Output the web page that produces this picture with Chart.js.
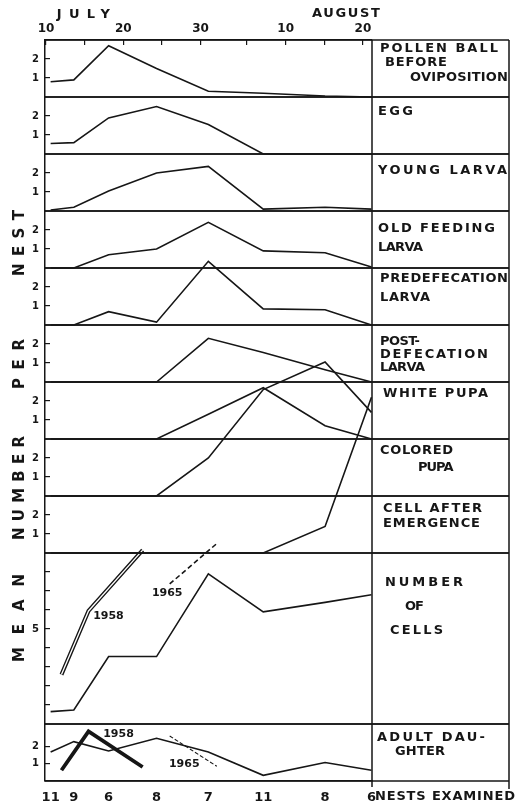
<!DOCTYPE html>
<html>
<head>
<meta charset="utf-8">
<style>
  html, body { margin: 0; padding: 0; background: #fff; }
</style>
<script src="https://cdn.jsdelivr.net/npm/chart.js@4.4.1/dist/chart.umd.min.js"></script>
</head>
<body>
<canvas id="chart" width="518" height="804"></canvas>
<script>
// sampling dates as days counted from July 1 (Aug 1 = 32)
const sampleDays = [10.6, 13.6, 18.1, 24.3, 31, 38.1, 46.1, 52.1];
const nestsExamined = ['11', '9', '6', '8', '7', '11', '8', '6'];

const topTickDays = [10, 15, 20, 25, 30, 36, 41, 46, 51];
const topTickLabels = ['10', '', '20', '', '30', '', '10', '', '20'];

// mean number per nest, one array per stage
const pollenBall          = [0.8, 0.9, 2.7, 1.5, 0.3, 0.2, 0.05, 0];
const egg                 = [0.55, 0.6, 1.9, 2.5, 1.55, 0, 0, 0];
const youngLarva          = [0.05, 0.2, 1.05, 2.0, 2.35, 0.1, 0.2, 0.1];
const oldFeedingLarva     = [0, 0, 0.7, 1.0, 2.4, 0.9, 0.8, 0.05];
const predefecationLarva  = [0, 0, 0.7, 0.15, 3.35, 0.85, 0.8, 0];
const postdefecationLarva = [0, 0, 0, 0, 2.3, 1.55, 0.65, 0];
const whitePupa           = [0, 0, 0, 0, 1.3, 2.7, 0.7, 0];
const coloredPupa         = [0, 0, 0, 0, 2.0, 5.6, 7.05, 4.4];
const cellAfterEmergence  = [0, 0, 0, 0, 0, 0, 1.4, 8.2];
const numberOfCells       = [0.65, 0.74, 3.55, 3.55, 7.9, 5.9, 6.4, 6.8];
const adultDaughters      = [1.7, 2.3, 1.75, 2.5, 1.7, 0.33, 1.08, 0.63];

// other years
const days1958 = [12.0, 15.5, 22.5];
const cells1958 = [2.6, 5.95, 9.15];
const adult1958 = [0.63, 2.9, 0.82];
const days1965 = [26, 32.1];
const cells1965 = [7.37, 9.5];
const adult1965 = [2.63, 0.86];

const smallTicks = [1, 2];
const cellTicks = [1, 2, 3, 4, 5, 6, 7, 8];

const ink = '#161616';
const fam = '"DejaVu Sans", sans-serif';

function pts(xs, ys) {
    return ys.map((v, i) => ({ x: xs[i], y: v }));
}

function series(xs, ys, axisId, extra) {
    return Object.assign({
        data: pts(xs, ys),
        xAxisID: 'x',
        yAxisID: axisId,
        borderColor: ink,
        borderWidth: 1.6,
        pointRadius: 0,
        tension: 0,
        fill: false,
        clip: false
    }, extra || {});
}

function panelAxis(max, tickVals, labelFn, weight) {
    return {
        type: 'linear',
        position: 'left',
        stack: 'panels',
        stackWeight: weight || 1,
        min: 0,
        max: max,
        afterBuildTicks: a => { a.ticks = tickVals.map(v => ({ value: v })); },
        afterFit: a => { a.width = 25; },
        grid: { display: true, drawOnChartArea: false, drawTicks: true, tickLength: -5, color: ink, lineWidth: 1.2 },
        border: { display: true, color: ink, width: 1.5 },
        ticks: {
            autoSkip: false,
            color: ink,
            padding: 11,
            font: { family: fam, size: 10, weight: 'bold' },
            callback: labelFn || (v => String(v))
        }
    };
}

// text drawn to a given width by spreading the letters
function fitText(ctx, text, x, y, width) {
    ctx.letterSpacing = '0px';
    const w = ctx.measureText(text).width;
    const ls = text.length > 1 ? Math.max(-1, (width - w) / (text.length - 1)) : 0;
    ctx.letterSpacing = ls + 'px';
    ctx.fillText(text, x, y);
    ctx.letterSpacing = '0px';
}

const sideLabels = [
    ['POLLEN BALL', 380, 49, 118],
    ['BEFORE', 385, 62.5, 62],
    ['OVIPOSITION', 410, 77.5, 98],
    ['EGG', 378, 112, 35],
    ['YOUNG LARVA', 378, 171, 129],
    ['OLD FEEDING', 378, 229, 117],
    ['LARVA', 378, 247.5, 45],
    ['PREDEFECATION', 380, 279, 128],
    ['LARVA', 380, 297.5, 50],
    ['POST-', 380, 342, 40],
    ['DEFECATION', 380, 355, 108],
    ['LARVA', 380, 367.5, 45],
    ['WHITE PUPA', 383, 394, 105],
    ['COLORED', 380, 451, 73],
    ['PUPA', 418, 467.5, 35],
    ['CELL AFTER', 383, 509, 99],
    ['EMERGENCE', 383, 524, 97],
    ['NUMBER', 385, 582.5, 78],
    ['OF', 405, 606.5, 18],
    ['CELLS', 390, 631, 53],
    ['ADULT DAU-', 377, 737.5, 108],
    ['GHTER', 395, 752, 50],
    ['NESTS EXAMINED', 375, 797, 140]
];

const leftWords = [['NEST', 243, 66], ['PER', 364, 50], ['NUMBER', 488, 104], ['MEAN', 618, 88]];

const monthLabels = [
    { text: 'JULY', day: 11.4, y: 15, width: 53 },
    { text: 'AUGUST', day: 44.4, y: 14, width: 68 }
];

const yearNotes = [
    { text: '1958', axis: 'yCells', day: 16.1, value: 5.67 },
    { text: '1965', axis: 'yCells', day: 23.7, value: 6.88 },
    { text: '1958', axis: 'yAdult', day: 17.4, value: 2.75 },
    { text: '1965', axis: 'yAdult', day: 25.9, value: 0.98 }
];

const framePlugin = {
    id: 'frame',
    afterDraw(chart) {
        const ctx = chart.ctx;
        const area = chart.chartArea;
        const outerRight = 509;
        ctx.save();
        ctx.strokeStyle = ink;
        ctx.lineWidth = 1.5;

        // panel separators across the plot and the label column
        Object.values(chart.scales).forEach(s => {
            if (s.axis !== 'y') return;
            [s.top, s.bottom].forEach(y => {
                ctx.beginPath();
                ctx.moveTo(area.left, y);
                ctx.lineTo(outerRight, y);
                ctx.stroke();
            });
        });
        ctx.beginPath();
        ctx.moveTo(area.right, area.top);
        ctx.lineTo(area.right, area.bottom + 6);
        ctx.moveTo(outerRight, area.top);
        ctx.lineTo(outerRight, area.bottom + 8);
        ctx.stroke();

        ctx.fillStyle = ink;
        ctx.textBaseline = 'middle';
        ctx.textAlign = 'left';

        ctx.font = 'bold 13px ' + fam;
        sideLabels.forEach(([t, x, y, w]) => fitText(ctx, t, x, y, w));

        const xs = chart.scales.x;
        monthLabels.forEach(m => fitText(ctx, m.text, xs.getPixelForValue(m.day), m.y, m.width));

        ctx.font = 'bold 11px ' + fam;
        yearNotes.forEach(n => {
            ctx.fillText(n.text, xs.getPixelForValue(n.day), chart.scales[n.axis].getPixelForValue(n.value));
        });

        ctx.font = 'bold 15px ' + fam;
        leftWords.forEach(([t, yc, len]) => {
            ctx.save();
            ctx.translate(20, yc);
            ctx.rotate(-Math.PI / 2);
            fitText(ctx, t, -len / 2, 0, len);
            ctx.restore();
        });
        ctx.restore();
    }
};

new Chart(document.getElementById('chart').getContext('2d'), {
    type: 'line',
    data: {
        datasets: [
            series(sampleDays, pollenBall, 'yPollen'),
            series(sampleDays, egg, 'yEgg'),
            series(sampleDays, youngLarva, 'yYoung'),
            series(sampleDays, oldFeedingLarva, 'yOld'),
            series(sampleDays, predefecationLarva, 'yPre'),
            series(sampleDays, postdefecationLarva, 'yPost'),
            series(sampleDays, whitePupa, 'yWhite'),
            series(sampleDays, coloredPupa, 'yColored'),
            series(sampleDays, cellAfterEmergence, 'yEmerged'),
            series(sampleDays, numberOfCells, 'yCells'),
            series(days1958, cells1958, 'yCells', { borderWidth: 4, order: 2 }),
            series(days1958, cells1958, 'yCells', { borderColor: '#fff', borderWidth: 1.3, order: 1 }),
            series(days1965, cells1965, 'yCells', { borderDash: [5, 3], borderWidth: 1.6 }),
            series(sampleDays, adultDaughters, 'yAdult'),
            series(days1958, adult1958, 'yAdult', { borderWidth: 3.8 }),
            series(days1965, adult1965, 'yAdult', { borderDash: [4, 2], borderWidth: 1.1 })
        ]
    },
    options: {
        responsive: false,
        animation: false,
        layout: { padding: { left: 20, right: 146, top: 0, bottom: 0 } },
        plugins: {
            legend: { display: false },
            tooltip: { enabled: false }
        },
        scales: {
            x: {
                type: 'linear',
                position: 'top',
                min: 9.87,
                max: 52.17,
                afterBuildTicks: a => { a.ticks = topTickDays.map(v => ({ value: v })); },
                afterFit: a => { a.height = 40; },
                grid: { display: true, drawOnChartArea: false, drawTicks: true, tickLength: -5, color: ink, lineWidth: 1.2 },
                border: { display: true, color: ink, width: 1.5 },
                ticks: {
                    autoSkip: false,
                    maxRotation: 0,
                    padding: 9,
                    color: ink,
                    font: { family: fam, size: 12, weight: 'bold' },
                    callback: (v, i) => topTickLabels[i]
                }
            },
            xb: {
                type: 'linear',
                position: 'bottom',
                min: 9.87,
                max: 52.17,
                afterBuildTicks: a => { a.ticks = sampleDays.map(v => ({ value: v })); },
                afterFit: a => { a.height = 23; },
                grid: { display: false },
                border: { display: true, color: ink, width: 1.5 },
                ticks: {
                    autoSkip: false,
                    maxRotation: 0,
                    padding: 1,
                    color: ink,
                    font: { family: fam, size: 13, weight: 'bold' },
                    callback: (v, i) => nestsExamined[i]
                }
            },
            // stacked panels, declared bottom to top
            yAdult: panelAxis(3.33, smallTicks),
            yCells: panelAxis(9, cellTicks, v => (v === 5 ? '5' : ''), 3),
            yEmerged: panelAxis(3, smallTicks),
            yColored: panelAxis(3, smallTicks),
            yWhite: panelAxis(3, smallTicks),
            yPost: panelAxis(3, smallTicks),
            yPre: panelAxis(3, smallTicks),
            yOld: panelAxis(3, smallTicks),
            yYoung: panelAxis(3, smallTicks),
            yEgg: panelAxis(3, smallTicks),
            yPollen: panelAxis(3, smallTicks)
        }
    },
    plugins: [framePlugin]
});
</script>
</body>
</html>
